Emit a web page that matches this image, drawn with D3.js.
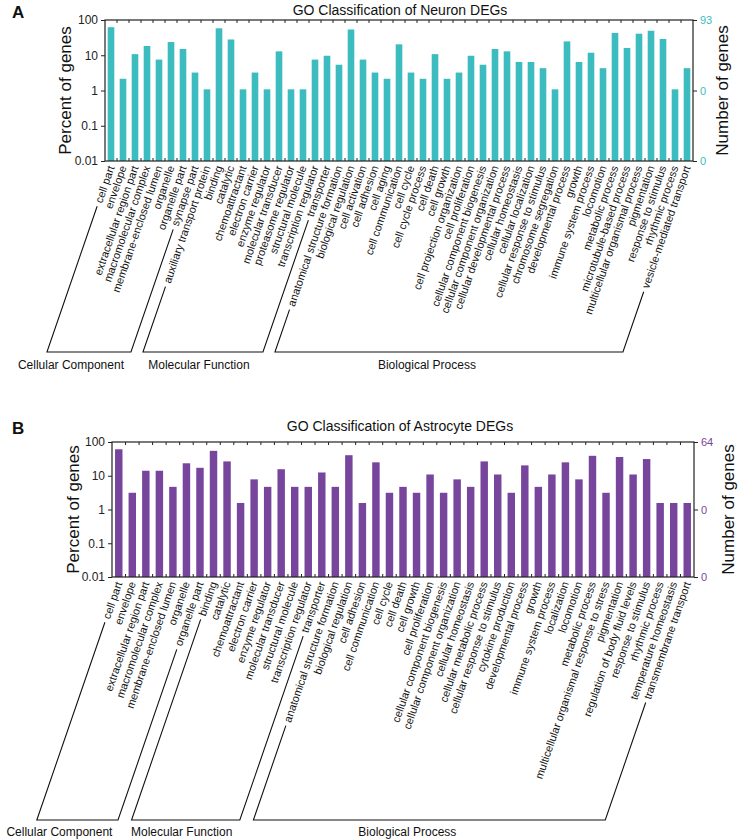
<!DOCTYPE html>
<html><head><meta charset="utf-8">
<script src="https://cdn.jsdelivr.net/npm/d3@7"></script>
<style>body{margin:0;background:#fff} text{font-family:"Liberation Sans",Arial,sans-serif}</style>
</head><body><svg id="c" width="738" height="840"></svg>
<script>
// ---------- DATA ----------
const groupNames = ["Cellular Component", "Molecular Function", "Biological Process"];

const neuronCategories = [
  "cell part","envelope","extracellular region part","macromolecular complex","membrane-enclosed lumen","organelle","organelle part","synapse part",
  "auxiliary transport protein","binding","catalytic","chemoattractant","electron carrier","enzyme regulator","molecular transducer","proteasome regulator","structural molecule","transcription regulator","transporter",
  "anatomical structure formation","biological regulation","cell activation","cell adhesion","cell aging","cell communication","cell cycle","cell cycle process","cell death","cell growth","cell projection organization","cell proliferation","cellular component biogenesis","cellular component organization","cellular developmental process","cellular homeostasis","cellular localization","cellular response to stimulus","chromosome segregation","developmental process","growth","immune system process","locomotion","metabolic process","microtubule-based process","multicellular organismal process","pigmentation","response to stimulus","rhythmic process","vesicle-mediated transport"
];
const neuronGroupSizes = [8, 11, 30];
const neuronPercent = [
  62.4, 2.15, 10.75, 18.3, 7.53, 23.7, 15.05, 3.23,
  1.08, 58.1, 28.0, 1.08, 3.23, 1.08, 12.9, 1.08, 1.08, 7.53, 9.68,
  5.38, 53.8, 7.53, 3.23, 2.15, 20.4, 3.23, 2.15, 10.75, 2.15, 3.23, 9.68, 5.38, 15.05, 12.9, 6.45, 6.45, 4.3, 1.08, 24.7, 6.45, 11.8, 4.3, 43.0, 16.1, 40.9, 49.5, 29.0, 1.08, 4.3
];
const neuronRightLabels = ["93", "0", "0"];

const astroCategories = [
  "cell part","envelope","extracellular region part","macromolecular complex","membrane-enclosed lumen","organelle","organelle part",
  "binding","catalytic","chemoattractant","electron carrier","enzyme regulator","molecular transducer","structural molecule","transcription regulator","transporter",
  "anatomical structure formation","biological regulation","cell adhesion","cell communication","cell cycle","cell death","cell growth","cell proliferation","cellular component biogenesis","cellular component organization","cellular homeostasis","cellular metabolic process","cellular response to stimulus","cytokine production","developmental process","growth","immune system process","localization","locomotion","metabolic process","multicellular organismal response to stress","pigmentation","regulation of body fluid levels","response to stimulus","rhythmic process","temperature homeostasis","transmembrane transport"
];
const astroGroupSizes = [7, 9, 27];
const astroPercent = [
  60.9, 3.13, 14.06, 14.06, 4.69, 23.4, 17.2,
  54.7, 26.6, 1.56, 7.81, 4.69, 15.6, 4.69, 4.69, 12.5,
  4.69, 40.6, 1.56, 25.0, 3.13, 4.69, 3.13, 10.9, 3.13, 7.81, 4.69, 26.6, 10.9, 3.13, 20.3, 4.69, 10.9, 25.0, 7.81, 39.0, 3.13, 35.9, 10.9, 31.25, 1.56, 1.56, 1.56
];
const astroRightLabels = ["64", "0", "0"];

const percentTicks = [100, 10, 1, 0.1, 0.01];
const percentTickLabels = ["100", "10", "1", "0.1", "0.01"];
const rightTickPercent = [100, 1, 0.01];

// ---------- DRAW ----------
const svg = d3.select("#c");
const ANG = 71;
const rad = ANG * Math.PI / 180;

function drawPanel(cfg) {
  const g = svg.append("g");
  const x = d3.scaleBand().domain(cfg.categories).range([cfg.left, cfg.right]).paddingInner(0.45).paddingOuter(0.225);
  const y = d3.scaleLog().domain([0.01, 100]).range([cfg.bottom, cfg.top]);
  const step = x.step();

  // bars
  g.selectAll("rect.bar").data(cfg.values).join("rect")
    .attr("x", (d, i) => x(cfg.categories[i]))
    .attr("width", x.bandwidth())
    .attr("y", d => y(d))
    .attr("height", d => cfg.bottom - y(d))
    .attr("fill", cfg.color);

  // box
  g.append("rect").attr("x", cfg.left).attr("y", cfg.top).attr("width", cfg.right - cfg.left).attr("height", cfg.bottom - cfg.top)
    .attr("fill", "none").attr("stroke", "#222").attr("stroke-width", 1.2);

  // top/bottom inner ticks at band boundaries
  const bounds = cfg.categories.slice(0, -1).map(c => x(c) + x.bandwidth() + (step - x.bandwidth()) / 2);
  g.selectAll("line.tt").data(bounds).join("line").attr("x1", d => d).attr("x2", d => d)
    .attr("y1", cfg.top).attr("y2", cfg.top + 3).attr("stroke", "#222");
  g.selectAll("line.tb").data(bounds).join("line").attr("x1", d => d).attr("x2", d => d)
    .attr("y1", cfg.bottom).attr("y2", cfg.bottom - 3).attr("stroke", "#222");

  // left axis
  const la = g.append("g").attr("transform", `translate(${cfg.left},0)`)
    .call(d3.axisLeft(y).tickValues(percentTicks).tickFormat((d, i) => percentTickLabels[i]).tickSize(4).tickSizeOuter(0));
  la.select(".domain").remove();
  la.selectAll("text").attr("font-size", 12).attr("fill", "#222").attr("font-family", "Liberation Sans, Arial");
  la.selectAll("line").attr("stroke", "#222");

  // right axis
  const ra = g.append("g").attr("transform", `translate(${cfg.right},0)`)
    .call(d3.axisRight(y).tickValues(rightTickPercent).tickFormat((d, i) => cfg.rightLabels[i]).tickSize(4).tickSizeOuter(0));
  ra.select(".domain").remove();
  ra.selectAll("text").attr("font-size", 11).attr("fill", cfg.color).attr("font-family", "Liberation Sans, Arial");
  ra.selectAll("line").attr("stroke", "#222");

  // titles
  g.append("text").attr("x", 400).attr("y", cfg.titleY).attr("text-anchor", "middle").attr("font-size", 14).attr("fill", "#111").text(cfg.title);
  g.append("text").attr("x", 12).attr("y", cfg.letterY).attr("font-size", 17).attr("font-weight", "bold").attr("fill", "#111").text(cfg.letter);
  const midY = (cfg.top + cfg.bottom) / 2;
  g.append("text").attr("transform", `translate(${cfg.leftLabelX},${midY}) rotate(-90)`).attr("text-anchor", "middle").attr("dy", "0.35em")
    .attr("font-size", 17).attr("fill", "#111").text("Percent of genes");
  g.append("text").attr("transform", `translate(${cfg.rightLabelX},${midY}) rotate(-90)`).attr("text-anchor", "middle").attr("dy", "0.35em")
    .attr("font-size", 17).attr("fill", "#111").text("Number of genes");

  // category labels
  const y0 = cfg.bottom + 5;
  const labels = g.selectAll("text.cat").data(cfg.categories).join("text")
    .attr("class", "cat")
    .attr("transform", d => `translate(${x(d) + x.bandwidth() / 2},${y0}) rotate(${-ANG})`)
    .attr("text-anchor", "end").attr("dy", "0.35em").attr("font-size", 11).attr("fill", "#111").text(d => d);
  const lens = [];
  labels.each(function () { lens.push(this.getComputedTextLength()); });

  // group brackets
  let start = 0;
  const nudges = [-18, -4, -22];
  cfg.groupSizes.forEach((n, gi) => {
    const i0 = start, i1 = start + n - 1;
    start += n;
    const ends = [i0, i1].map(i => {
      const bx = x(cfg.categories[i]) + x.bandwidth() / 2;
      const t0 = lens[i] + 4;
      const t1 = (cfg.bracketY - y0) / Math.sin(rad);
      return { xa: bx - t0 * Math.cos(rad), ya: y0 + t0 * Math.sin(rad), xb: bx - t1 * Math.cos(rad), yb: cfg.bracketY };
    });
    const path = d3.path();
    path.moveTo(ends[0].xa, ends[0].ya);
    path.lineTo(ends[0].xb, ends[0].yb);
    path.lineTo(ends[1].xb, ends[1].yb);
    path.lineTo(ends[1].xa, ends[1].ya);
    g.append("path").attr("d", path.toString()).attr("fill", "none").attr("stroke", "#111").attr("stroke-width", 1.1);
    g.append("text").attr("x", (ends[0].xb + ends[1].xb) / 2 + nudges[gi]).attr("y", cfg.groupLabelY)
      .attr("text-anchor", "middle").attr("font-size", 12).attr("fill", "#111").text(groupNames[gi]);
  });
}

drawPanel({
  categories: neuronCategories, values: neuronPercent, groupSizes: neuronGroupSizes, rightLabels: neuronRightLabels,
  color: "#3cbcbe", title: "GO Classification of Neuron DEGs", letter: "A",
  left: 105, right: 693, top: 20, bottom: 161, titleY: 15, letterY: 18,
  leftLabelX: 65, rightLabelX: 722, bracketY: 352, groupLabelY: 369
});
drawPanel({
  categories: astroCategories, values: astroPercent, groupSizes: astroGroupSizes, rightLabels: astroRightLabels,
  color: "#77459b", title: "GO Classification of Astrocyte DEGs", letter: "B",
  left: 112, right: 694, top: 442, bottom: 577, titleY: 431, letterY: 434,
  leftLabelX: 73, rightLabelX: 728, bracketY: 820, groupLabelY: 836
});
</script></body></html>
